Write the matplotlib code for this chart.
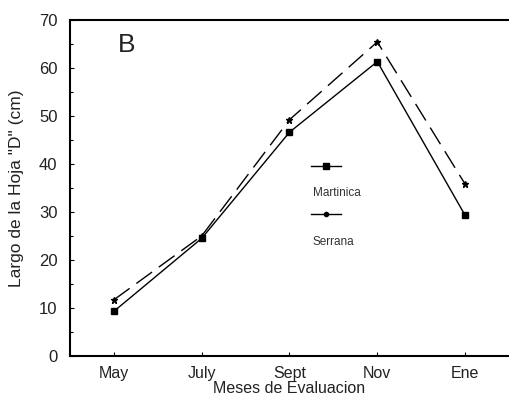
import matplotlib
matplotlib.use("Agg")
import matplotlib.pyplot as plt
from matplotlib.lines import Line2D
from matplotlib.ticker import MultipleLocator

plt.rcParams['font.family'] = ['Liberation Sans', 'DejaVu Sans']

months = ["May", "July", "Sept", "Nov", "Ene"]
martinica = [9.3, 24.5, 46.6, 61.3, 29.3]
serrana = [11.7, 25.0, 49.2, 65.4, 35.8]
yticks = [0, 10, 20, 30, 40, 50, 60, 70]

fig = plt.figure(figsize=(5.09, 4.05), dpi=100)
ax = fig.add_axes([0.1375, 0.121, 0.8625, 0.830])

x = list(range(len(months)))
ax.plot(x, martinica, color='black', lw=1.0, marker='s', markersize=5, ls='-')
ax.plot(x, serrana, color='black', lw=1.0, marker='*', markersize=4.5,
        ls=(0, (14, 6)))

ax.set_xlim(-0.5, 4.5)
ax.set_ylim(0, 70)
ax.set_xticks(x)
ax.set_xticklabels(months, fontsize=11.5, color='#222')
ax.set_yticks(yticks)
ax.set_yticklabels([str(v) for v in yticks], fontsize=12, color='#222')
ax.yaxis.set_minor_locator(MultipleLocator(5))
ax.tick_params(direction='in', length=3, width=0.8)
ax.tick_params(axis='y', pad=9)
ax.tick_params(axis='x', pad=7)
ax.tick_params(which='minor', direction='in', length=2, width=0.8)
ax.spines['right'].set_visible(False)
for s in ['left', 'bottom', 'top']:
    ax.spines[s].set_linewidth(1.5)

ax.set_xlabel("Meses de Evaluacion", fontsize=11.5, labelpad=0, color='#222')
ax.set_ylabel('Largo de la Hoja "D" (cm)', fontsize=12.5, color='#222',
              va='center')
ax.yaxis.set_label_coords(-0.121, 0.5)

ax.text(0.128, 0.926, "B", transform=ax.transAxes, fontsize=19,
        ha='center', va='center', color='#222')

# legend drawn manually
ax.add_line(Line2D([0.549, 0.617], [0.565, 0.565], transform=ax.transAxes,
                   color='black', lw=1.0))
ax.add_line(Line2D([0.583], [0.565], transform=ax.transAxes, color='black',
                   marker='s', markersize=4.5, ls='none'))
ax.text(0.553, 0.485, "Martinica", transform=ax.transAxes, fontsize=8.5,
        ha='left', va='center', color='#333')
ax.add_line(Line2D([0.549, 0.617], [0.423, 0.423], transform=ax.transAxes,
                   color='black', lw=1.0))
ax.add_line(Line2D([0.583], [0.423], transform=ax.transAxes, color='black',
                   marker='o', markersize=3, ls='none'))
ax.text(0.553, 0.339, "Serrana", transform=ax.transAxes, fontsize=8.5,
        ha='left', va='center', color='#333')

fig.savefig("out.png", dpi=100)
